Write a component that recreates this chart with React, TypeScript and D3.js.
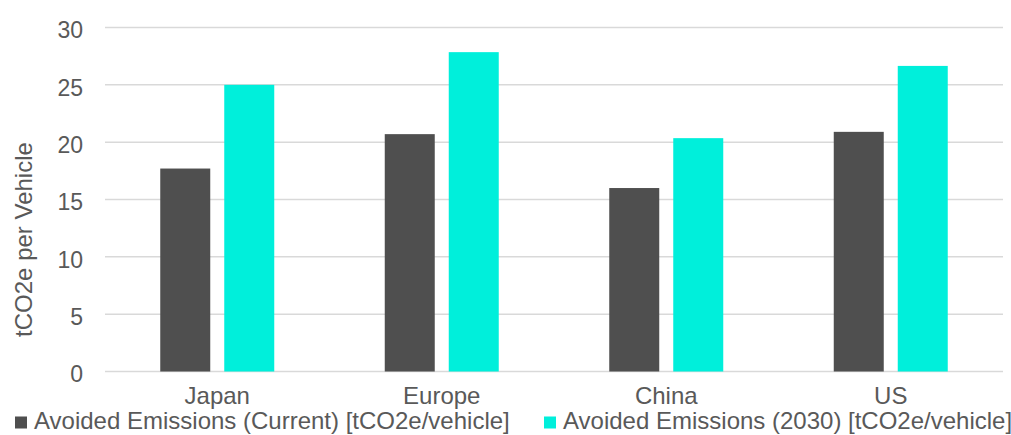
import React from "react";
import * as d3 from "d3";

const categories = ["Japan", "Europe", "China", "US"];
const seriesNames = [
  "Avoided Emissions (Current) [tCO2e/vehicle]",
  "Avoided Emissions (2030) [tCO2e/vehicle]",
];
const currentValues = [17.7, 20.7, 16.0, 20.9];
const future2030Values = [25.0, 27.85, 20.35, 26.65];
const yTicks = [0, 5, 10, 15, 20, 25, 30];
const colors = ["#4f4f4f", "#00efdb"];

const W = 1011;
const H = 435;
const left = 105;
const right = 1003;
const top = 27.5;
const bottom = 371.5;
const font = "'Liberation Sans', Arial, sans-serif";
const textColor = "#595959";

export default function App() {
  const x = d3.scaleBand<string>().domain(categories).range([left, right]).paddingInner(0).paddingOuter(0);
  const y = d3.scaleLinear().domain([0, 30]).range([bottom, top]);
  const series = [currentValues, future2030Values];
  const barW = 50;
  const gap = 14;
  const groupW = barW * 2 + gap;

  return (
    <svg width={W} height={H} style={{ position: "absolute", left: 0, top: 0 }}>
      <rect width={W} height={H} fill="#fff" />
      {yTicks.map((t) => (
        <g key={t}>
          <line x1={left} x2={right} y1={y(t)} y2={y(t)} stroke="#d9d9d9" strokeWidth={1.5} />
          <text x={83} y={y(t) + 10.8} textAnchor="end" fontFamily={font} fontSize={23} fill={textColor}>
            {t}
          </text>
        </g>
      ))}
      {categories.map((c, i) => {
        const cx = (x(c) as number) + x.bandwidth() / 2;
        return (
          <g key={c}>
            {series.map((vals, s) => (
              <rect
                key={s}
                x={cx - groupW / 2 + s * (barW + gap)}
                y={y(vals[i])}
                width={barW}
                height={y(0) - y(vals[i])}
                fill={colors[s]}
              />
            ))}
            <text x={cx} y={404} textAnchor="middle" fontFamily={font} fontSize={24} fill={textColor}>
              {c}
            </text>
          </g>
        );
      })}
      <text
        transform={`translate(31.5,239.5) rotate(-90)`}
        textAnchor="middle"
        fontFamily={font}
        fontSize={24}
        fill={textColor}
      >
        tCO2e per Vehicle
      </text>
      {seriesNames.map((n, s) => {
        const lx = s === 0 ? 15 : 544;
        return (
          <g key={n}>
            <rect x={lx} y={416.5} width={12} height={12} fill={colors[s]} />
            <text x={lx + 19} y={428.5} fontFamily={font} fontSize={24} fill={textColor}>
              {n}
            </text>
          </g>
        );
      })}
    </svg>
  );
}
